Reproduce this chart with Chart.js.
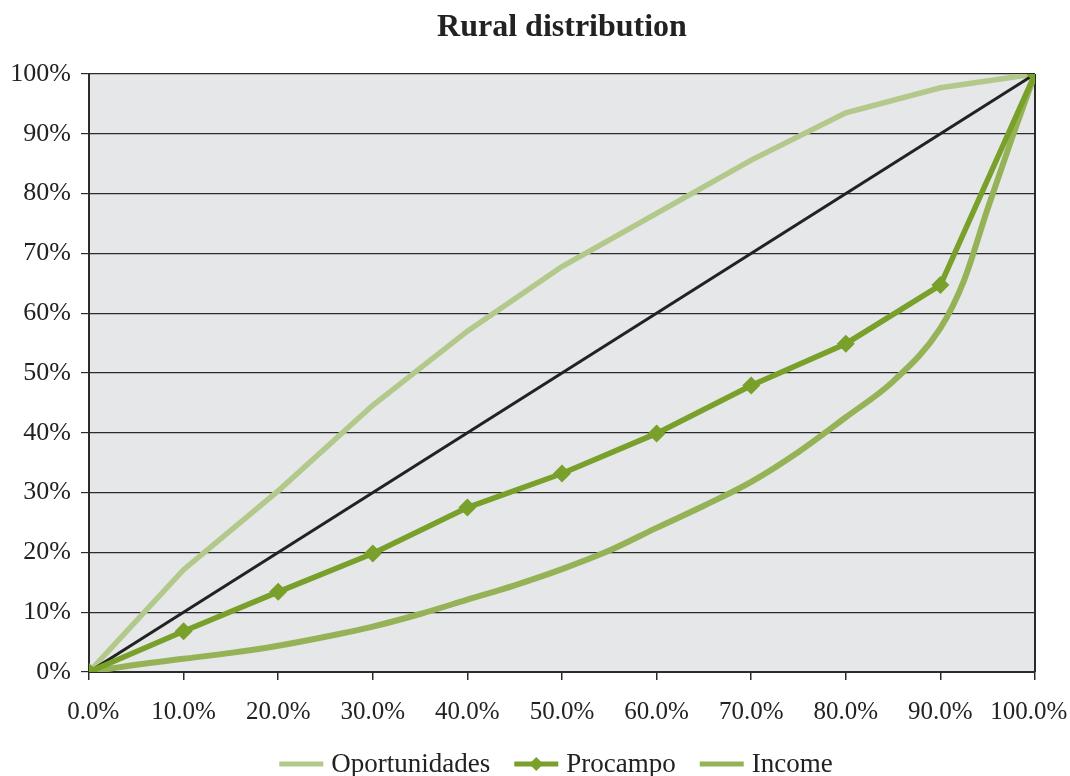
<!DOCTYPE html>
<html>
<head>
<meta charset="utf-8">
<script src="https://cdn.jsdelivr.net/npm/chart.js@4/dist/chart.umd.min.js"></script>
<style>
  html, body { margin: 0; padding: 0; background: #ffffff; }
  #wrap { width: 1070px; height: 776px; }
</style>
</head>
<body>
<div id="wrap"><canvas id="c" width="1070" height="776"></canvas></div>
<script>
// Cumulative share of population (x) against cumulative share received (y), in percent
const populationShare = [0, 10, 20, 30, 40, 50, 60, 70, 80, 90, 100];
const oportunidades   = [0, 17.1, 30.3, 44.6, 57.0, 67.8, 76.7, 85.6, 93.5, 97.7, 100];
const procampo        = [0, 6.8, 13.4, 19.8, 27.5, 33.2, 39.9, 47.9, 54.9, 64.7, 100];

// Income curve is sampled more finely
const incomeShareX = [0, 5, 10, 15, 20, 25, 30, 35, 40, 45, 50, 55, 60, 65, 70, 75, 80, 85, 90, 92.5, 95, 97.5, 100];
const income       = [0, 1.2, 2.2, 3.2, 4.4, 5.9, 7.6, 9.7, 12.1, 14.5, 17.2, 20.3, 24.1, 27.8, 31.8, 36.8, 42.6, 48.6, 57.5, 65.5, 77.5, 89.0, 100];

// Line of perfect equality
const equalityX = [0, 100];
const equalityY = [0, 100];

const xTicks = { min: 0, max: 100, step: 10 };
const yTicks = { min: 0, max: 100, step: 10 };

const seriesNames = ['Oportunidades', 'Procampo', 'Income', 'Equality'];
const colors = {
  oportunidades: '#b3c98b',
  procampo: '#78a02a',
  income: '#95b356',
  equality: '#222222'
};

const toPoints = (xs, ys) => xs.map((x, i) => ({ x: x, y: ys[i] }));

const serif = '"Liberation Serif", "Times New Roman", serif';

// x labels as "10.0%"; the two end labels are nudged inward so they stay inside the canvas
function xLabel(v) {
  const s = v.toFixed(1) + '%';
  if (v === xTicks.min) return '\u2004' + s;
  if (v === xTicks.max) return s + '\u2002';
  return s;
}

// Grey plot area with a dark frame on the right
const plotFrame = {
  id: 'plotFrame',
  beforeDraw(chart) {
    const a = chart.chartArea, ctx = chart.ctx;
    ctx.save();
    ctx.fillStyle = '#e6e7e9';
    ctx.fillRect(a.left, a.top, a.right - a.left, a.bottom - a.top);
    ctx.restore();
  },
  beforeDatasetsDraw(chart) {
    const a = chart.chartArea, ctx = chart.ctx;
    ctx.save();
    ctx.strokeStyle = '#2b2b2b';
    ctx.lineWidth = 2;
    ctx.beginPath();
    ctx.moveTo(a.right, a.top);
    ctx.lineTo(a.right, a.bottom);
    ctx.stroke();
    ctx.restore();
  }
};

// Legend row under the x axis: line sample (with a diamond for Procampo) and the series name
const lineLegend = {
  id: 'lineLegend',
  afterDraw(chart) {
    const ctx = chart.ctx;
    const entries = chart.data.datasets.filter(d => d.label !== seriesNames[3]);
    const sampleW = 44, textGap = 8, itemGap = 24, cy = 764;
    ctx.save();
    ctx.font = '27px ' + serif;
    const widths = entries.map(d => ctx.measureText(d.label).width);
    const total = widths.reduce((s, w) => s + sampleW + textGap + w, 0) + itemGap * (entries.length - 1);
    const a = chart.chartArea;
    let x = (a.left + a.right) / 2 - total / 2 - 6;
    entries.forEach((d, i) => {
      ctx.strokeStyle = d.borderColor;
      ctx.lineWidth = 5;
      ctx.beginPath();
      ctx.moveTo(x, cy);
      ctx.lineTo(x + sampleW, cy);
      ctx.stroke();
      if (d.pointRadius > 0) {
        const cx = x + sampleW / 2, r = 7;
        ctx.fillStyle = d.borderColor;
        ctx.beginPath();
        ctx.moveTo(cx, cy - r);
        ctx.lineTo(cx + r, cy);
        ctx.lineTo(cx, cy + r);
        ctx.lineTo(cx - r, cy);
        ctx.closePath();
        ctx.fill();
      }
      ctx.fillStyle = '#222222';
      ctx.textBaseline = 'middle';
      ctx.textAlign = 'left';
      ctx.fillText(d.label, x + sampleW + textGap, cy + 1);
      x += sampleW + textGap + widths[i] + itemGap;
    });
    ctx.restore();
  }
};

new Chart(document.getElementById('c'), {
  type: 'line',
  data: {
    datasets: [
      {
        label: seriesNames[0],
        data: toPoints(populationShare, oportunidades),
        borderColor: colors.oportunidades,
        backgroundColor: colors.oportunidades,
        borderWidth: 5.5,
        pointRadius: 0,
        order: 3
      },
      {
        label: seriesNames[1],
        data: toPoints(populationShare, procampo),
        borderColor: colors.procampo,
        backgroundColor: colors.procampo,
        borderWidth: 5.5,
        pointStyle: 'rectRot',
        pointRadius: 9,
        pointBorderWidth: 0,
        order: 0
      },
      {
        label: seriesNames[2],
        data: toPoints(incomeShareX, income),
        borderColor: colors.income,
        backgroundColor: colors.income,
        borderWidth: 6,
        pointRadius: 0,
        cubicInterpolationMode: 'monotone',
        order: 1
      },
      {
        label: seriesNames[3],
        data: toPoints(equalityX, equalityY),
        borderColor: colors.equality,
        backgroundColor: colors.equality,
        borderWidth: 3,
        pointRadius: 0,
        order: 2
      }
    ]
  },
  options: {
    responsive: false,
    animation: false,
    layout: { autoPadding: false, padding: { left: 6, right: 35, top: 4, bottom: 32 } },
    plugins: {
      title: {
        display: true,
        fullSize: false,
        text: 'Rural distribution',
        color: '#222222',
        font: { family: serif, size: 32, weight: 'bold' },
        padding: { top: 5, bottom: 26.6 }
      },
      legend: { display: false },
      tooltip: { enabled: false }
    },
    scales: {
      x: {
        type: 'linear',
        min: xTicks.min,
        max: xTicks.max,
        afterFit(scale) { scale.paddingLeft = 0; scale.paddingRight = 0; },
        ticks: {
          stepSize: xTicks.step,
          color: '#222222',
          font: { family: serif, size: 25 },
          padding: 17,
          maxRotation: 0,
          callback: xLabel
        },
        grid: {
          drawOnChartArea: false,
          drawTicks: true,
          tickLength: 8,
          color: '#2b2b2b',
          lineWidth: 1.5
        },
        border: { display: true, color: '#2b2b2b', width: 2 }
      },
      y: {
        min: yTicks.min,
        max: yTicks.max,
        afterFit(scale) { scale.width = 83; },
        ticks: {
          stepSize: yTicks.step,
          color: '#222222',
          font: { family: serif, size: 26 },
          padding: 10,
          callback: (v) => v + '%'
        },
        grid: {
          color: '#2b2b2b',
          lineWidth: 1.2,
          tickLength: 8
        },
        border: { display: true, color: '#2b2b2b', width: 2 }
      }
    }
  },
  plugins: [plotFrame, lineLegend]
});
</script>
</body>
</html>
